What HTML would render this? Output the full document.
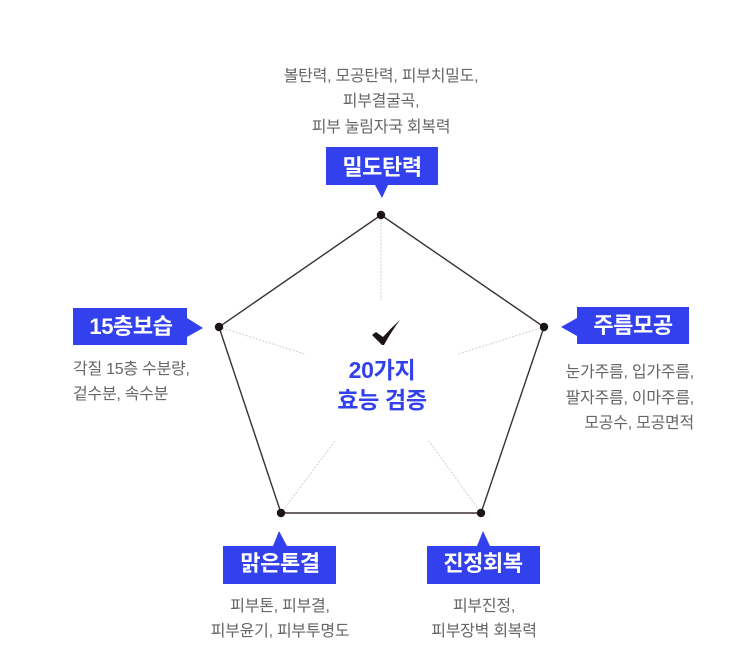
<!DOCTYPE html>
<html lang="ko"><head><meta charset="utf-8"><style>
html,body{margin:0;padding:0;background:#fff}
svg{display:block;filter:blur(.35px)}
text{font-family:"Liberation Sans","Noto Sans CJK KR",sans-serif}
.d{font-size:16px;fill:#666;letter-spacing:-.25px}
.t{font-size:22px;font-weight:700;fill:#fff;text-anchor:middle;letter-spacing:-.4px}
.c{font-size:23px;font-weight:700;fill:#3240ee;text-anchor:middle;letter-spacing:-.3px}
.m{text-anchor:middle}.e{text-anchor:end}
</style></head><body>
<svg width="743" height="645" viewBox="0 0 743 645" xmlns="http://www.w3.org/2000/svg">
<g stroke="#cfcfcf" stroke-width="1" stroke-dasharray="2 1.5" fill="none">
<path d="M381 215V300M219 327L305 354M544 327L458 354M281 513L335 441M481 513L429 441"/>
</g>
<path d="M381 215L544 327L481 513H281L219 327Z" fill="none" stroke="#3a3230" stroke-width="1.4"/>
<g fill="#1c1412">
<circle cx="381" cy="215" r="4.2"/><circle cx="544" cy="327" r="4.2"/><circle cx="481" cy="513" r="4.2"/><circle cx="281" cy="513" r="4.2"/><circle cx="219" cy="327" r="4.2"/>
<path d="M372 335L376 332L383 337Q391 328 400 320Q391 332 384 345L382 345Z"/>
</g>
<g fill="#3240ee">
<path d="M326 147H438V185H388L382 198L375 185H326Z"/>
<path d="M73 308H187V318L203 328L187 337V345H73Z"/>
<path d="M577 307H689V344H577V336L561 327L577 318Z"/>
<path d="M223 546H273L279 531L287 546H336V584H223Z"/>
<path d="M427 546H477L483 531L490 546H540V584H427Z"/>
</g>
<text class="t" x="382" y="175">밀도탄력</text>
<text class="t" x="131" y="334">15층보습</text>
<text class="t" x="633" y="333">주름모공</text>
<text class="t" x="280" y="571">맑은톤결</text>
<text class="t" x="483" y="571">진정회복</text>
<text class="c" x="382" y="378">20가지</text>
<text class="c" x="382" y="408">효능 검증</text>
<g class="d">
<text class="m" x="381" y="81">볼탄력, 모공탄력, 피부치밀도,</text>
<text class="m" x="381" y="106">피부결굴곡,</text>
<text class="m" x="381" y="132">피부 눌림자국 회복력</text>
<text x="73" y="374">각질 15층 수분량,</text>
<text x="73" y="399">겉수분, 속수분</text>
<text class="e" x="694" y="377">눈가주름, 입가주름,</text>
<text class="e" x="694" y="403">팔자주름, 이마주름,</text>
<text class="e" x="694" y="428">모공수, 모공면적</text>
<text class="m" x="280" y="611">피부톤, 피부결,</text>
<text class="m" x="280" y="636">피부윤기, 피부투명도</text>
<text class="m" x="484" y="611">피부진정,</text>
<text class="m" x="484" y="636">피부장벽 회복력</text>
</g>
</svg>
</body></html>
